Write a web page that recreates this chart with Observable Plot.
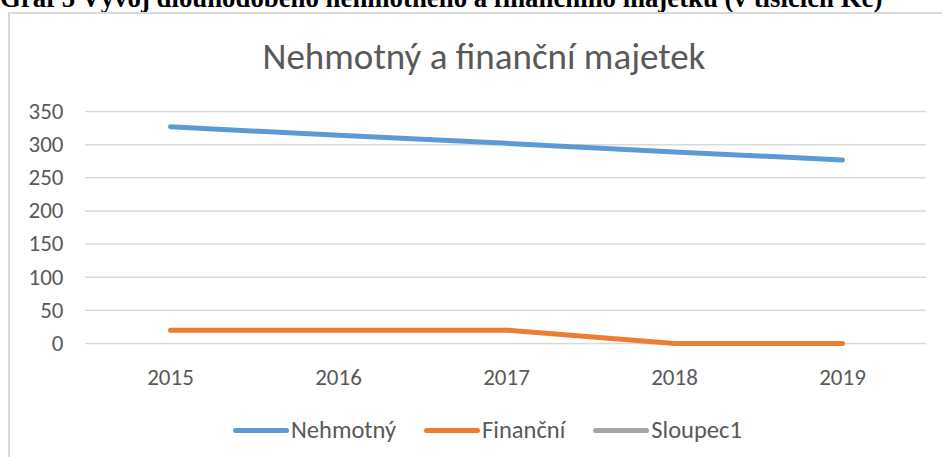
<!DOCTYPE html>
<html>
<head>
<meta charset="utf-8">
<script src="https://cdn.jsdelivr.net/npm/d3@7"></script>
<script src="https://cdn.jsdelivr.net/npm/@observablehq/plot@0.6"></script>
<style>
  html, body { margin: 0; padding: 0; background: #fff; width: 942px; height: 457px; overflow: hidden; position: relative; }
  #hdr { position: absolute; left: 0; top: -15px; font: bold 26.8px "Liberation Serif", "Times New Roman", serif; line-height: 1; color: #000; white-space: nowrap; }
  #box { position: absolute; left: 8px; top: 12px; width: 1000px; height: 500px; border: 2px solid #d9d9d9; box-sizing: border-box; }
  #title { position: absolute; left: 13px; width: 942px; top: 38px; text-align: center; font: 37px Carlito, Calibri, Lato, sans-serif; color: #595959; line-height: 1; white-space: nowrap; }
  #chart { position: absolute; left: 0; top: 90px; }
  #legend { position: absolute; left: 233px; top: 417px; display: flex; gap: 28px; font: 24.5px Carlito, Calibri, Lato, sans-serif; color: #595959; line-height: 26px; white-space: nowrap; }
  .item { display: flex; align-items: center; }
  .sw { width: 56px; height: 5px; border-radius: 3px; margin-right: 2px; }
</style>
</head>
<body>
<div id="hdr">Graf 5 Vývoj dlouhodobého nehmotného a finančního majetku (v tisících Kč)</div>
<div id="box"></div>
<div id="title">Nehmotný a finanční majetek</div>
<div id="chart"></div>
<div id="legend"></div>
<script>
const years = ["2015", "2016", "2017", "2018", "2019"];
const nehmotny = [327, 314, 302, 289, 277];
const financni = [20, 20, 20, 0, 0];
const sloupec1 = [];
const seriesNames = ["Nehmotný", "Finanční", "Sloupec1"];
const seriesColors = ["#5b9bd5", "#ed7d31", "#a5a5a5"];
const yTicks = [0, 50, 100, 150, 200, 250, 300, 350];

const rows = [];
[nehmotny, financni, sloupec1].forEach((vals, i) => {
  vals.forEach((v, j) => rows.push({series: seriesNames[i], year: years[j], value: v}));
});

const font = "Carlito, Calibri, Lato, sans-serif";
const plot = Plot.plot({
  width: 942,
  height: 310,
  marginTop: 21,
  marginBottom: 57,
  marginLeft: 85,
  marginRight: 16,
  style: {fontFamily: font, fontSize: "23px", color: "#595959", background: "transparent"},
  x: {type: "point", domain: years, padding: 0.5, label: null},
  y: {domain: [0, 350], label: null},
  color: {domain: seriesNames, range: seriesColors},
  marks: [
    Plot.gridY(yTicks, {stroke: "#d9d9d9", strokeOpacity: 1, strokeWidth: 1.5}),
    Plot.axisY(yTicks, {tickSize: 0, tickPadding: 22, fill: "#595959", label: null}),
    Plot.axisX({tickSize: 0, tickPadding: 25, fill: "#595959", label: null}),
    Plot.line(rows, {x: "year", y: "value", z: "series", stroke: "series", strokeWidth: 5, strokeLinecap: "round", strokeLinejoin: "round"})
  ]
});
document.getElementById("chart").appendChild(plot);

const legend = document.getElementById("legend");
seriesNames.forEach((name, i) => {
  const it = document.createElement("div");
  it.className = "item";
  const sw = document.createElement("div");
  sw.className = "sw";
  sw.style.background = seriesColors[i];
  const t = document.createElement("span");
  t.textContent = name;
  it.appendChild(sw);
  it.appendChild(t);
  legend.appendChild(it);
});
</script>
</body>
</html>
